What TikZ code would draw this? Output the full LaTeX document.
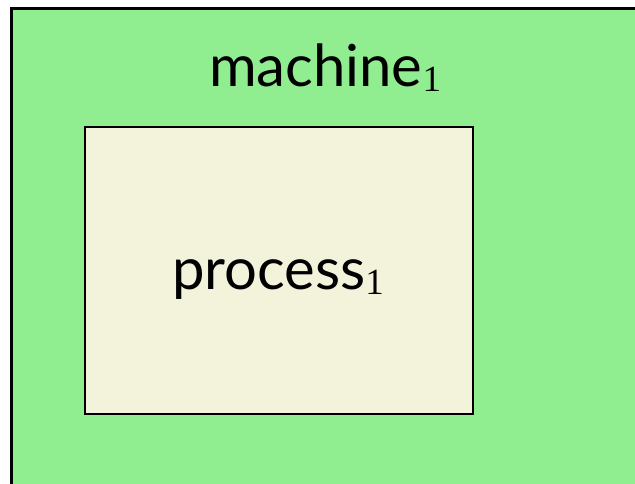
\documentclass[tikz,border=0pt]{standalone}
\usepackage{fontspec}
\setmainfont{Lato}
\newfontfamily\subfont{Liberation Serif}
\usepackage{xcolor}
\usetikzlibrary{positioning}

\definecolor{machinegreen}{HTML}{90EE90}
\definecolor{processbeige}{HTML}{F3F3DC}

\begin{document}
\begin{tikzpicture}[
          every node/.style={font=\fontsize{33}{38}\selectfont},
          machinebox/.style={draw, line width=1.7pt, fill=machinegreen, inner sep=0pt, anchor=north west, minimum width=13cm, minimum height=10cm},
          procbox/.style={draw, line width=1.1pt, fill=processbeige, inner sep=0pt, anchor=north west, minimum width=7.76cm, minimum height=5.74cm},
          label/.style={anchor=base, inner sep=0pt}
      ]
        \clip (0,0) rectangle (12.7,9.68);
        \node[machinebox] (m1) at (0.2,9.54) {};
        \node[procbox] (p1) at (1.68,7.16) {};
        \node[label] (m1text) at (6.5,7.94) {machine{\subfont\fontsize{21}{24}\selectfont\raisebox{-0.12em}{1}}};
        \node[label] (p1text) at (5.56,3.88) {process{\subfont\fontsize{21}{24}\selectfont\raisebox{-0.12em}{1}}};
      \end{tikzpicture}
\end{document}
